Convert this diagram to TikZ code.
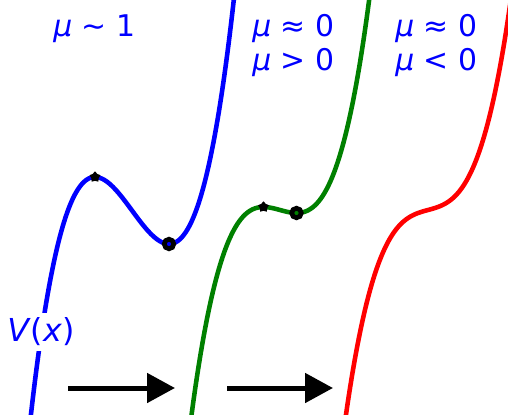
\documentclass[tikz,border=0pt]{standalone}
\usepackage{fontspec}
\setmainfont{DejaVu Sans}
\usetikzlibrary{arrows.meta, shapes.geometric}

\begin{document}
\begin{tikzpicture}[x=0.02cm, y=0.02cm,
  potential/.style={line width=2.6pt, smooth, samples=160},
  peak/.style={star, star points=5, fill=black, inner sep=0pt, minimum size=0.23cm},
  well/.style={circle, draw=black, line width=0.095cm, inner sep=0pt, minimum size=0.19cm},
  flow/.style={line width=0.1cm, -{Triangle[length=0.56cm, width=0.58cm]}},
  lbl/.style={text=blue, inner sep=0pt, align=left, anchor=north west,
    font=\fontsize{17}{19.4}\selectfont}]
  \useasboundingbox (0,0) rectangle (508,414);

  % V = t^3/3 - mu t，三条曲线水平错开
  \begin{scope}
    \clip (0,0) rectangle (508,414);
    \draw[potential, blue]  plot[domain=-2.8:2.8] ({132+37*\x}, {203.5+50.25*(\x^3/3-\x)});
    \draw[potential, green!50!black] plot[domain=-2.5:2.5] ({280+37*\x}, {204+50.25*(\x^3/3-0.2*\x)});
    \draw[potential, red]   plot[domain=-2.3:2.3] ({428+37*\x}, {204+50.25*(\x^3/3+0.2*\x)});
  \end{scope}

  % 极值点
  \node[peak] (maxA) at (95,237) {};
  \node[well] (minA) at (169,170) {};
  \node[peak] (maxB) at (263.5,207) {};
  \node[well] (minB) at (296.5,201) {};

  % 箭头
  \coordinate (a1s) at (68,26);
  \coordinate (a1e) at (175,26);
  \coordinate (a2s) at (227,26);
  \coordinate (a2e) at (333,26);
  \draw[flow] (a1s) -- (a1e);
  \draw[flow] (a2s) -- (a2e);

  % 文字
  \node[lbl] (muA) at (53,400) {\textit{μ} ∼ 1};
  \node[lbl] (muB) at (252,400) {\textit{μ} ≈ 0\\\textit{μ} > 0};
  \node[lbl] (muC) at (395,400) {\textit{μ} ≈ 0\\\textit{μ} < 0};
  \node[text=blue, fill=white, inner sep=3pt, font=\fontsize{18}{20}\selectfont]
    (pot) at (41,82) {\textit{V}(\textit{x})};
\end{tikzpicture}
\end{document}
